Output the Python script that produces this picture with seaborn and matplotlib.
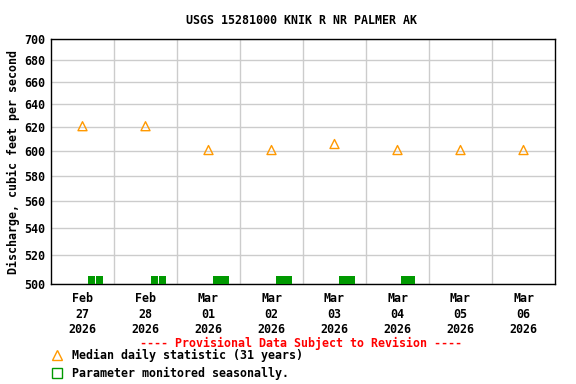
import matplotlib
matplotlib.use("Agg")
import matplotlib.pyplot as plt
import seaborn as sns
import pandas as pd
from matplotlib.lines import Line2D
from matplotlib.ticker import FixedLocator, NullFormatter

# day labels and median daily statistic (cfs)
days = ["Feb\n27\n2026", "Feb\n28\n2026", "Mar\n01\n2026", "Mar\n02\n2026",
        "Mar\n03\n2026", "Mar\n04\n2026", "Mar\n05\n2026", "Mar\n06\n2026"]
median_cfs = [621, 621, 601, 601, 606, 601, 601, 601]

# seasonal-monitoring segments (start, end) in days from Feb 27 00:00
seasonal_start = [0.587, 0.708, 1.587, 1.712, 2.571, 3.571, 4.571, 5.556, 5.668]
seasonal_end = [0.700, 0.825, 1.704, 1.825, 2.825, 3.825, 4.825, 5.660, 5.778]

yticks = [500, 520, 540, 560, 580, 600, 620, 640, 660, 680, 700]

sns.set_style("white", {"text.color": "black", "axes.labelcolor": "black",
                        "xtick.color": "black", "ytick.color": "black"})
plt.rcParams["font.family"] = ["DejaVu Sans Mono"]
plt.rcParams["font.weight"] = "bold"
FS = 8.4

fig = plt.figure(figsize=(5.76, 3.84), dpi=100)
ax = fig.add_axes([51/576, 1-284/384, 504/576, 245/384])

df = pd.DataFrame({"x": [i + 0.5 for i in range(len(days))], "y": median_cfs})
sns.scatterplot(data=df, x="x", y="y", ax=ax, marker="^", s=42,
                facecolor="none", edgecolor="#ff9900", linewidth=1.0, zorder=4)

seg = pd.DataFrame({"start": seasonal_start, "end": seasonal_end})
ax.bar(seg["start"], 5.5, width=seg["end"] - seg["start"], bottom=500,
       align="edge", color="#009900", linewidth=0, zorder=3)

ax.set_yscale("log")
ax.set_ylim(500, 700)
ax.set_xlim(0, 8)
ax.yaxis.set_major_locator(FixedLocator(yticks))
ax.yaxis.set_minor_locator(FixedLocator([]))
ax.yaxis.set_minor_formatter(NullFormatter())
ax.set_yticklabels([str(v) for v in yticks], fontsize=FS, fontweight="bold")
ax.set_xticks([i + 0.5 for i in range(len(days))])
ax.set_xticklabels(days, fontsize=FS, fontweight="bold", linespacing=1.25)
ax.set_xticks(range(1, 8), minor=True)
ax.tick_params(axis="both", which="both", length=0, pad=4)
ax.tick_params(axis="x", pad=6)
ax.grid(False)
ax.grid(True, which="minor", axis="x", color="#cccccc", linewidth=1)
ax.grid(True, which="major", axis="y", color="#cccccc", linewidth=1)
for s in ax.spines.values():
    s.set_color("black")
    s.set_linewidth(1)
ax.set_xlabel("")
ax.set_ylabel("Discharge, cubic feet per second", fontsize=FS, fontweight="bold", labelpad=3)

fig.text(302/576, 1-20/384, "USGS 15281000 KNIK R NR PALMER AK", ha="center", va="center",
         fontsize=FS, fontweight="bold")
fig.text(301/576, 1-343/384, "---- Provisional Data Subject to Revision ----", ha="center",
         va="center", fontsize=FS, fontweight="bold", color="red")

handles = [
    Line2D([], [], linestyle="none", marker="^", markersize=7, markerfacecolor="none",
           markeredgecolor="#ff9900", label="Median daily statistic (31 years)"),
    Line2D([], [], linestyle="none", marker="s", markersize=6.5, markerfacecolor="none",
           markeredgecolor="#009900", label="Parameter monitored seasonally."),
]
fig.legend(handles=handles, loc="upper left", bbox_to_anchor=(52/576, 1-349/384), frameon=False,
           prop={"size": FS, "weight": "bold", "family": "DejaVu Sans Mono"},
           handlelength=0.8, handletextpad=0.9, labelspacing=0.45, borderpad=0, borderaxespad=0)

fig.savefig("out.png", dpi=100)
